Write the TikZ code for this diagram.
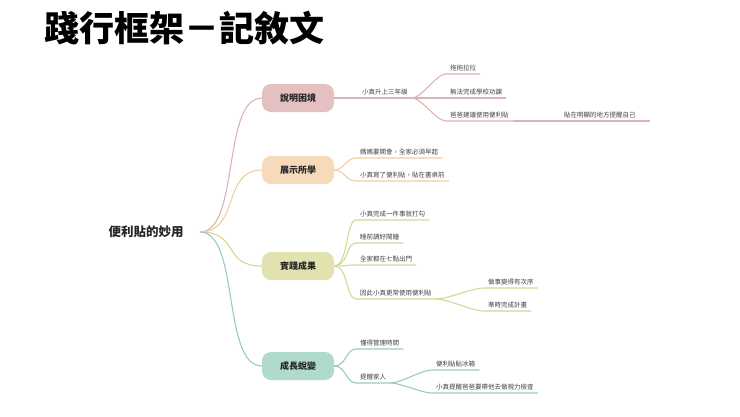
\documentclass[tikz,border=0pt]{standalone}
\usepackage{fontspec}
\setmainfont{Noto Sans CJK TC}
\usetikzlibrary{positioning}
\definecolor{pinkb}{RGB}{228,192,192}
\definecolor{orangeb}{RGB}{246,218,186}
\definecolor{oliveb}{RGB}{226,226,176}
\definecolor{tealb}{RGB}{176,218,206}
\definecolor{pinkl}{RGB}{222,178,180}
\definecolor{orangel}{RGB}{240,204,160}
\definecolor{olivel}{RGB}{214,214,150}
\definecolor{teall}{RGB}{150,205,190}
\begin{document}
\begin{tikzpicture}[x=1pt,y=-1pt,inner sep=0pt]
\tikzstyle{branch}=[rounded corners=9pt, minimum width=72pt, minimum height=28pt, font=\fontsize{9}{9}\selectfont\bfseries, text=black!85]
\tikzstyle{leaf}=[anchor=south west, inner xsep=4pt, inner ysep=3pt, font=\fontsize{6.5}{6.5}\selectfont, text=black!75]
\tikzstyle{conn}=[line width=1.1pt]
\useasboundingbox (0,0) rectangle (740,416);
\node[anchor=west,font=\fontsize{35}{35}\selectfont\bfseries] (title) at (44,28) {踐行框架－記敘文};
\node[font=\fontsize{12.5}{12.5}\selectfont\bfseries, text=black!85] (root) at (146,232) {便利貼的妙用};
\node[branch,fill=pinkb] (b1) at (298,98) {說明困境};
\node[branch,fill=orangeb] (b2) at (298,170) {展示所學};
\node[branch,fill=oliveb] (b3) at (298,266) {實踐成果};
\node[branch,fill=tealb] (b4) at (298,366) {成長蛻變};
\coordinate (r) at (200,232);
\foreach \b/\c in {b1/pinkl,b2/orangel,b3/olivel,b4/teall}
  \draw[conn,\c] (r) .. controls +(40,0) and +(-40,0) .. (\b.west);
% 說明困境
\node[leaf] (a1) at (358,98) {小真升上三年級};
\node[leaf] (a11) at (446,74) {拖拖拉拉};
\node[leaf] (a12) at (446,98) {無法完成學校功課};
\node[leaf] (a13) at (446,121) {爸爸建議使用便利貼};
\node[leaf,inner xsep=14pt] (a131) at (550,121) {貼在明顯的地方提醒自己};
\draw[conn,pinkl] (b1.east) -- (a1.south west) -- (a1.south east);
\foreach \n in {a11,a12,a13}
  \draw[conn,pinkl] (a1.south east) .. controls +(10,0) and +(-10,0) .. (\n.south west) -- (\n.south east);
\draw[conn,pinkl] (a13.south east) -- (a131.south east);
% 展示所學
\node[leaf] (a2) at (356,158) {媽媽要開會，全家必須早起};
\node[leaf] (a3) at (356,181) {小真寫了便利貼，貼在書桌前};
\foreach \n in {a2,a3}
  \draw[conn,orangel] (b2.east) .. controls +(10,0) and +(-10,0) .. (\n.south west) -- (\n.south east);
% 實踐成果
\node[leaf] (c1) at (356,220) {小真完成一件事就打勾};
\node[leaf] (c2) at (356,243) {睡前調好鬧鐘};
\node[leaf] (c3) at (356,265) {全家都在七點出門};
\node[leaf] (c4) at (356,299) {因此小真更常使用便利貼};
\node[leaf] (c41) at (484,288) {做事變得有次序};
\node[leaf] (c42) at (484,311) {準時完成計畫};
\foreach \n in {c1,c2,c3,c4}
  \draw[conn,olivel] (b3.east) .. controls +(14,0) and +(-10,0) .. (\n.south west) -- (\n.south east);
\foreach \n in {c41,c42}
  \draw[conn,olivel] (c4.south east) .. controls +(12,0) and +(-12,0) .. (\n.south west) -- (\n.south east);
% 成長蛻變
\node[leaf] (d1) at (356,349) {懂得管理時間};
\node[leaf] (d2) at (356,383) {提醒家人};
\node[leaf] (d21) at (432,370) {便利貼貼冰箱};
\node[leaf] (d22) at (432,393) {小真提醒爸爸要帶他去做視力檢查};
\foreach \n in {d1,d2}
  \draw[conn,teall] (b4.east) .. controls +(12,0) and +(-10,0) .. (\n.south west) -- (\n.south east);
\foreach \n in {d21,d22}
  \draw[conn,teall] (d2.south east) .. controls +(10,0) and +(-10,0) .. (\n.south west) -- (\n.south east);
\end{tikzpicture}
\end{document}
